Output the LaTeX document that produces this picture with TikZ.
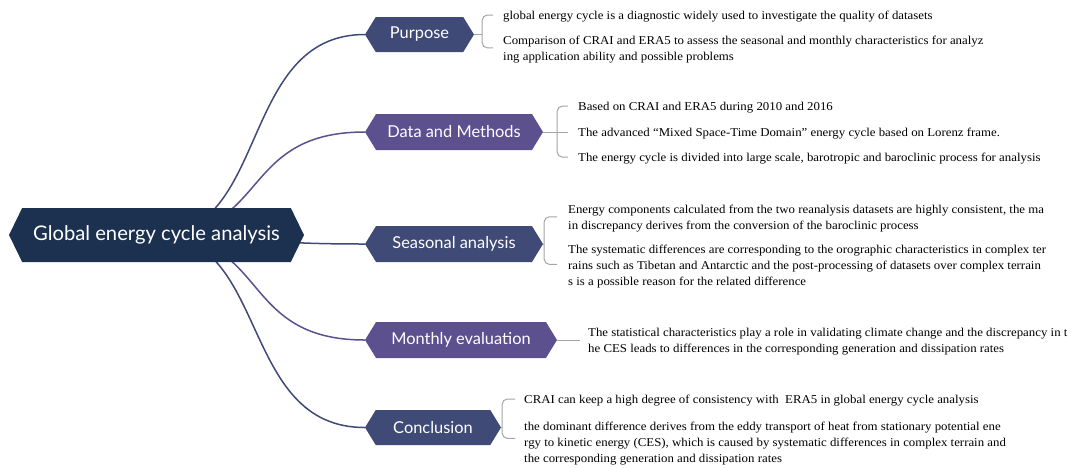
\documentclass[tikz,border=0pt]{standalone}
\usepackage{fontspec}
\setmainfont[FakeStretch=1.07]{Liberation Serif}
\newfontfamily\topicfont{Lato}
\usetikzlibrary{shapes.symbols,backgrounds}

\definecolor{rootblue}{HTML}{1C3150}
\definecolor{slateblue}{HTML}{3F4A77}
\definecolor{mapviolet}{HTML}{5C508F}
\definecolor{bracegray}{HTML}{A5A5A5}

\newcommand{\itemlines}[1]{\begin{tabular}[t]{@{}l@{}}#1\end{tabular}}

\begin{document}
\begin{tikzpicture}[x=1pt,y=-1pt]
      \useasboundingbox (0,0) rectangle (1073,467);

      \begin{scope}[every node/.style={signal,signal to=west and east,signal pointer angle=117,
          text=white,inner sep=0pt,minimum height=36pt,font=\topicfont\fontsize{16.4}{19}\selectfont}]
        \node[fill=rootblue,signal pointer angle=128,minimum width=295pt,minimum height=54pt,
          font=\topicfont\fontsize{20.2}{24}\selectfont] (root) at (156.5,235) {Global energy cycle analysis};
        \node[fill=slateblue,minimum width=109pt,minimum height=35pt] (purpose) at (419.5,34.5) {Purpose};
        \node[fill=mapviolet,minimum width=178pt] (datam)  at (454,132)   {Data and Methods};
        \node[fill=slateblue,minimum width=178pt] (season) at (454,244)   {Seasonal analysis};
        \node[fill=mapviolet,minimum width=192pt] (month)  at (461,340)   {Monthly evaluation};
        \node[fill=slateblue,minimum width=136pt,minimum height=35pt] (concl) at (433,427.5) {Conclusion};
      \end{scope}

      \begin{scope}[every node/.style={anchor=base west,inner sep=0pt,font=\fontsize{12}{16}\selectfont}]
        \node (pur1) at (503,19.5)  {global energy cycle is a diagnostic widely used to investigate the quality of datasets};
        \node (pur2) at (503,44.5)  {\itemlines{Comparison of CRAI and ERA5 to assess the seasonal and monthly characteristics for analyz\\
            ing application ability and possible problems}};
        \node (dm1)  at (578,110.5) {Based on CRAI and ERA5 during 2010 and 2016};
        \node (dm2)  at (578,136.5) {The advanced ``Mixed Space-Time Domain'' energy cycle based on Lorenz frame.};
        \node (dm3)  at (578,161.5) {The energy cycle is divided into large scale, barotropic and baroclinic process for analysis};
        \node (sea1) at (568,213.5) {\itemlines{Energy components calculated from the two reanalysis datasets are highly consistent, the ma\\
            in discrepancy derives from the conversion of the baroclinic process}};
        \node (sea2) at (568,253.5) {\itemlines{The systematic differences are corresponding to the orographic characteristics in complex ter\\
            rains such as Tibetan and Antarctic and the post-processing of datasets over complex terrain\\
            s is a possible reason for the related difference}};
        \node (mon1) at (588,336.5) {\itemlines{The statistical characteristics play a role in validating climate change and the discrepancy in t\\
            he CES leads to differences in the corresponding generation and dissipation rates}};
        \node (con1) at (524,403.5) {CRAI can keep a high degree of consistency with \ ERA5 in global energy cycle analysis};
        \node (con2) at (524,430.5) {\itemlines{the dominant difference derives from the eddy transport of heat from stationary potential ene\\
            rgy to kinetic energy (CES), which is caused by systematic differences in complex terrain and\\
            the corresponding generation and dissipation rates}};
      \end{scope}

      \begin{scope}[on background layer]
        \begin{scope}[every edge/.style={draw,line width=1.5pt,
            to path={.. controls +(113,0) and +(-126,0) .. (\tikztotarget)}}]
          \path (root.center) edge[slateblue] (purpose.west);
          \path (root.center) edge[mapviolet] (datam.west);
          \path (root.center) edge[slateblue] (season.west);
          \path (root.center) edge[mapviolet] (month.west);
          \path (root.center) edge[slateblue] (concl.west);
        \end{scope}
      \end{scope}

      \begin{scope}[bracegray,line width=1pt]
        \coordinate (purA) at ([xshift=-10pt,yshift=1.5pt]pur1.west);
        \coordinate (purB) at ([xshift=-10pt,yshift=1.5pt]pur2.west);
        \coordinate (purS) at ([xshift=8pt]purpose.east);
        \draw (purpose.east) -- (purS);
        \draw[rounded corners=5pt] (purA) -- (purA -| purS) -- (purB -| purS) -- (purB);

        \coordinate (dmA) at ([xshift=-10pt,yshift=1.5pt]dm1.west);
        \coordinate (dmB) at ([xshift=-10pt]dm2.west);
        \coordinate (dmC) at ([xshift=-10pt,yshift=1.5pt]dm3.west);
        \coordinate (dmS) at ([xshift=14pt]datam.east);
        \draw (datam.east) -- (datam.east -| dmB);
        \draw[rounded corners=5pt] (dmA) -- (dmA -| dmS) -- (dmC -| dmS) -- (dmC);

        \coordinate (seaA) at ([xshift=-11pt,yshift=1.5pt]sea1.west);
        \coordinate (seaB) at ([xshift=-11pt,yshift=2pt]sea2.west);
        \coordinate (seaS) at ([xshift=1pt]season.east);
        \draw (season.east) -- (seaS);
        \draw[rounded corners=5pt] (seaA) -- (seaA -| seaS) -- (seaB -| seaS) -- (seaB);

        \coordinate (monA) at ([xshift=-8pt]mon1.west);
        \draw (month.east) -- (month.east -| monA);

        \coordinate (conA) at ([xshift=-9pt,yshift=1.5pt]con1.west);
        \coordinate (conB) at ([xshift=-9pt,yshift=5pt]con2.west);
        \coordinate (conS) at ([xshift=1pt]concl.east);
        \draw (concl.east) -- (conS);
        \draw[rounded corners=5pt] (conA) -- (conA -| conS) -- (conB -| conS) -- (conB);
      \end{scope}

\end{tikzpicture}
\end{document}
